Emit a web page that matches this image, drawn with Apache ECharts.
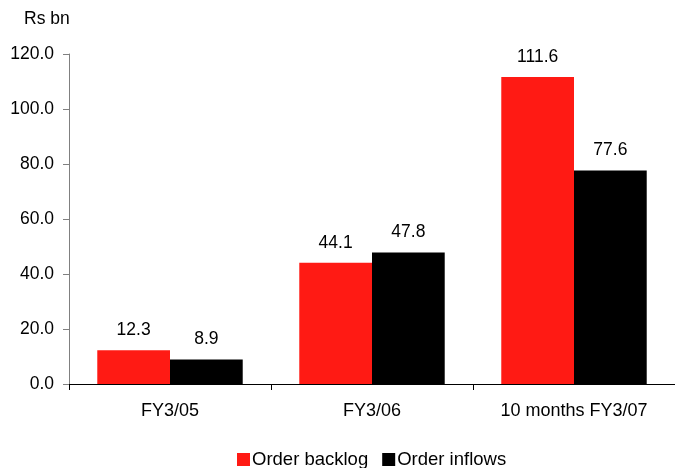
<!DOCTYPE html>
<html>
<head>
<meta charset="utf-8">
<script src="https://cdn.jsdelivr.net/npm/echarts@6/dist/echarts.min.js"></script>
<style>
  html, body { margin: 0; padding: 0; background: #fff; }
  #chart { width: 675px; height: 468px; }
</style>
</head>
<body>
<div id="chart"></div>
<script>
// Order backlog vs order inflows, Rs bn
const categories = ['FY3/05', 'FY3/06', '10 months FY3/07'];
const orderBacklog = [12.3, 44.1, 111.6];
const orderInflows = [8.9, 47.8, 77.6];
const yTicks = { min: 0, max: 120, interval: 20 };

const font = 'Arial, "Liberation Sans", sans-serif';
const chart = echarts.init(document.getElementById('chart'));

const labelStyle = {
  show: true,
  position: 'top',
  distance: 11,
  color: '#000',
  fontSize: 17.5,
  fontFamily: font,
  formatter: p => p.value.toFixed(1)
};

chart.setOption({
  animation: false,
  backgroundColor: '#fff',
  grid: { left: 69, top: 54, width: 609, height: 330, containLabel: false },
  graphic: [{
    type: 'text',
    left: 24,
    top: 10,
    style: { text: 'Rs bn', fontSize: 17.5, fontFamily: font, fill: '#000' }
  }],
  legend: {
    left: 237,
    top: 450,
    padding: 0,
    itemWidth: 13,
    itemHeight: 13,
    itemGap: 14,
    icon: 'rect',
    textStyle: { fontSize: 18.5, fontFamily: font, color: '#000', padding: [0, 0, 0, -3] },
    data: ['Order backlog', 'Order inflows']
  },
  xAxis: {
    type: 'category',
    data: categories,
    axisLine: { lineStyle: { color: '#000', width: 1 } },
    axisTick: { show: true, length: 6, lineStyle: { color: '#000' } },
    axisLabel: { color: '#000', fontSize: 18, fontFamily: font, margin: 18 }
  },
  yAxis: {
    type: 'value',
    min: yTicks.min,
    max: yTicks.max,
    interval: yTicks.interval,
    splitLine: { show: false },
    axisLine: { show: true, lineStyle: { color: '#808080', width: 1 } },
    axisTick: { show: true, length: 6, lineStyle: { color: '#808080' } },
    axisLabel: {
      color: '#000', fontSize: 17.5, fontFamily: font, margin: 15,
      formatter: v => v.toFixed(1)
    }
  },
  series: [
    {
      name: 'Order backlog',
      type: 'bar',
      data: orderBacklog,
      barGap: '0%',
      barCategoryGap: '28%',
      itemStyle: { color: '#FF1A14' },
      label: labelStyle
    },
    {
      name: 'Order inflows',
      type: 'bar',
      data: orderInflows,
      itemStyle: { color: '#000000' },
      label: labelStyle
    }
  ]
});
</script>
</body>
</html>
